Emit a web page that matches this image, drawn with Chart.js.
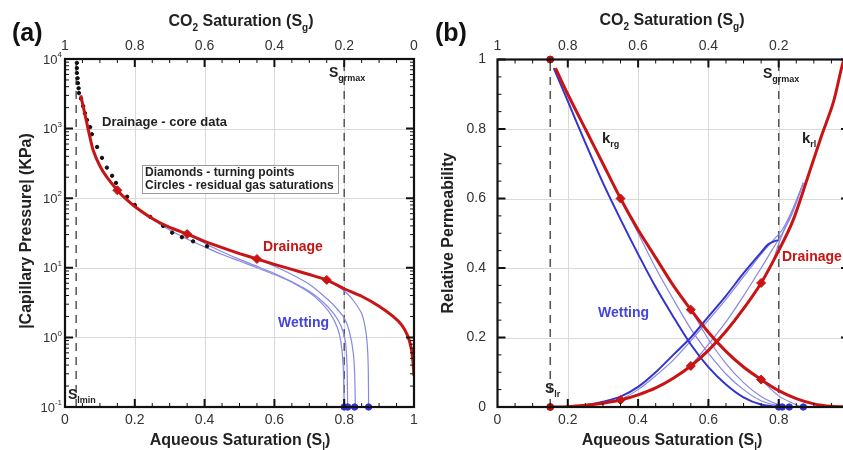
<!DOCTYPE html>
<html><head><meta charset="utf-8">
<script src="https://cdn.jsdelivr.net/npm/chart.js@4/dist/chart.umd.min.js"></script>
<style>
html,body{margin:0;padding:0;background:#fff;width:843px;height:450px;overflow:hidden;position:relative}
canvas{position:absolute;top:0}
#ca{left:0}
#cb{left:430px}
</style></head><body>
<canvas id="ca" width="430" height="450"></canvas>
<canvas id="cb" width="430" height="450"></canvas>
<script>
// ---------- Panel (a): capillary pressure ----------
const drainSl = [0.045,0.055,0.066,0.08,0.1,0.12,0.15,0.172,0.2,0.25,0.3,0.35,0.4,0.45,0.5,0.55,0.6,0.65,0.7,0.75,0.8,0.85,0.9,0.94,0.965,0.982,0.992,0.997,1.0];
const drainPc = [3000,1800,1000,500,290,200,130,100,76,51,38,30.6,24,19.5,16,13.4,11.2,9.5,8,6.7,5.0,3.9,2.8,2.0,1.5,1.05,0.7,0.45,0.28];
const wet1Sl = [0.15,0.2,0.25,0.3,0.35,0.4,0.45,0.5,0.55,0.6,0.65,0.7,0.73,0.76,0.78,0.79,0.797,0.8];
const wet1Pc = [130,78,50,35,26,20,15.5,12.5,10,8,6.2,4.4,3.3,2.2,1.4,0.9,0.4,0.1];
const wet2Sl = [0.35,0.4,0.45,0.5,0.55,0.6,0.65,0.7,0.74,0.77,0.79,0.803,0.808,0.81];
const wet2Pc = [30.6,22.5,17,13.2,10.5,8.3,6.3,4.6,3.2,2.2,1.5,0.9,0.4,0.1];
const wet3Sl = [0.55,0.6,0.65,0.7,0.74,0.77,0.8,0.815,0.826,0.83,0.832];
const wet3Pc = [13.4,10.5,8,5.8,4,2.9,1.9,1.2,0.6,0.3,0.1];
const wet4Sl = [0.75,0.78,0.81,0.83,0.85,0.86,0.866,0.869,0.87];
const wet4Pc = [6.7,5.5,4.2,3.2,2.2,1.4,0.8,0.35,0.1];
const coreSl = [0.034,0.034,0.034,0.036,0.037,0.039,0.040,0.046,0.052,0.057,0.063,0.072,0.077,0.092,0.106,0.120,0.135,0.146,0.178,0.20,0.244,0.281,0.307,0.335,0.367,0.407];
const corePc = [8800,7400,6300,5300,4500,3800,3240,2700,2100,1670,1330,1050,830,545,380,275,210,166,105,80,54,40,32,27.5,24,20.4];
const turnSl = [0.15,0.35,0.55,0.75];
const turnPc = [130,30.6,13.4,6.7];
const resSl = [0.80,0.81,0.83,0.87];
const slminSl = 0.032;
const sgrmaxSl = 0.8;
const aBottomTicks = [0,0.2,0.4,0.6,0.8,1];
const aBottomLabels = ['0','0.2','0.4','0.6','0.8','1'];
const aTopLabels = ['1','0.8','0.6','0.4','0.2','0'];
const aDecades = [-1,0,1,2,3,4];

// ---------- Panel (b): relative permeability ----------
const krgDrSl = [0.165,0.2,0.25,0.3,0.35,0.4,0.45,0.5,0.55,0.6,0.65,0.7,0.75,0.8,0.85,0.9,0.95,1.0];
const krgDrKr = [0.975,0.90,0.80,0.70,0.60,0.51,0.43,0.35,0.28,0.215,0.16,0.115,0.079,0.047,0.024,0.009,0.002,0];
const krlDrSl = [0.15,0.2,0.25,0.3,0.35,0.4,0.45,0.5,0.55,0.6,0.65,0.7,0.75,0.8,0.84,0.88,0.92,0.955,0.98,1.0];
const krlDrKr = [0,0.001,0.005,0.011,0.02,0.035,0.055,0.083,0.118,0.163,0.218,0.283,0.357,0.45,0.535,0.653,0.775,0.875,0.98,1.05];
const krgW1Sl = [0.16,0.2,0.25,0.3,0.35,0.4,0.45,0.5,0.55,0.6,0.65,0.7,0.75,0.8];
const krgW1Kr = [0.975,0.88,0.76,0.645,0.54,0.44,0.345,0.26,0.18,0.115,0.065,0.028,0.007,0];
const krgW2Sl = [0.35,0.4,0.45,0.5,0.55,0.6,0.65,0.7,0.75,0.81];
const krgW2Kr = [0.6,0.5,0.4,0.31,0.225,0.155,0.095,0.05,0.018,0];
const krgW3Sl = [0.55,0.6,0.65,0.7,0.75,0.8,0.83];
const krgW3Kr = [0.28,0.195,0.125,0.07,0.03,0.006,0];
const krgW4Sl = [0.75,0.8,0.85,0.87];
const krgW4Kr = [0.079,0.032,0.006,0];
const krlW1Sl = [0.2,0.25,0.3,0.35,0.4,0.45,0.5,0.55,0.6,0.65,0.7,0.75,0.77,0.79,0.8];
const krlW1Kr = [0,0.005,0.015,0.03,0.058,0.1,0.15,0.2,0.26,0.32,0.385,0.445,0.468,0.478,0.48];
const krlW2Sl = [0.35,0.4,0.45,0.5,0.55,0.6,0.65,0.7,0.75,0.78,0.81,0.84,0.87];
const krlW2Kr = [0.02,0.05,0.09,0.135,0.19,0.25,0.31,0.375,0.44,0.475,0.51,0.57,0.645];
const krlW3Sl = [0.55,0.6,0.65,0.7,0.75,0.78,0.81,0.84,0.87];
const krlW3Kr = [0.118,0.18,0.245,0.32,0.4,0.45,0.5,0.56,0.645];
const krlW4Sl = [0.75,0.78,0.8,0.82,0.85,0.87];
const krlW4Kr = [0.357,0.41,0.47,0.52,0.59,0.645];
const turnKrgKr = [0.6,0.28,0.079];
const turnKrlKr = [0.02,0.118,0.357];
const turnBSl = [0.35,0.55,0.75];
const slrSl = 0.15;
const bBottomLabels = ['0','0.2','0.4','0.6','0.8','1'];
const bTopLabels = ['1','0.8','0.6','0.4','0.2','0'];
const bYTicks = [0,0.2,0.4,0.6,0.8,1];
const bYLabels = ['0','0.2','0.4','0.6','0.8','1'];

// ---------- helpers ----------
const zip = (xs, ys) => xs.map((x, i) => ({x, y: ys[i]}));
const RED = '#c81414', BLUE = '#3434d0', LBLUE = '#8888e4', FONT = '"Liberation Sans", Arial, sans-serif';
function lineDs(xs, ys, color, w, order, tension) {
  return {data: zip(xs, ys), showLine: true, borderColor: color, borderWidth: w, pointRadius: 0, tension: tension === undefined ? 0.3 : tension, fill: false, order};
}
function markDs(xs, ys, color, style, r, order) {
  return {data: zip(xs, ys), showLine: false, pointStyle: style, pointRadius: r, backgroundColor: color, borderColor: color, borderWidth: 1, clip: false, order};
}
function dashDs(x, y0, y1) {
  return {data: [{x, y: y0}, {x, y: y1}], showLine: true, borderColor: '#555', borderWidth: 1.5, borderDash: [8, 6], pointRadius: 0, order: 50};
}
// rich text: parts = [[text, mode]] mode 0 normal, 1 subscript, 2 superscript
function rich(ctx, parts, x, y, align, size, bold, color) {
  const w = bold ? 'bold ' : '';
  const small = Math.round(size * 0.62);
  let total = 0;
  parts.forEach(([t, m]) => { ctx.font = w + (m ? small : size) + 'px ' + FONT; total += ctx.measureText(t).width; });
  let cx = align === 'center' ? x - total / 2 : align === 'right' ? x - total : x;
  ctx.fillStyle = color || '#222';
  ctx.textBaseline = 'middle';
  ctx.textAlign = 'left';
  parts.forEach(([t, m]) => {
    ctx.font = w + (m ? small : size) + 'px ' + FONT;
    const dy = m === 1 ? size * 0.38 : m === 2 ? -size * 0.38 : 0;
    ctx.fillText(t, cx, y + dy);
    cx += ctx.measureText(t).width;
  });
}
function frameTicks(ctx, ca, xs, ysMaj, ysMin, xPix, yPix) {
  ctx.save();
  ctx.strokeStyle = '#111';
  ctx.lineWidth = 2;
  xs.major.forEach(v => { const p = xPix(v); ctx.beginPath(); ctx.moveTo(p, ca.bottom); ctx.lineTo(p, ca.bottom - 8); ctx.moveTo(p, ca.top); ctx.lineTo(p, ca.top + 8); ctx.stroke(); });
  ysMaj.forEach(v => { const p = yPix(v); ctx.beginPath(); ctx.moveTo(ca.left, p); ctx.lineTo(ca.left + 8, p); ctx.moveTo(ca.right, p); ctx.lineTo(ca.right - 8, p); ctx.stroke(); });
  ctx.lineWidth = 1;
  xs.minor.forEach(v => { const p = xPix(v); ctx.beginPath(); ctx.moveTo(p, ca.bottom); ctx.lineTo(p, ca.bottom - 4); ctx.moveTo(p, ca.top); ctx.lineTo(p, ca.top + 4); ctx.stroke(); });
  ysMin.forEach(v => { const p = yPix(v); ctx.beginPath(); ctx.moveTo(ca.left, p); ctx.lineTo(ca.left + 4, p); ctx.moveTo(ca.right, p); ctx.lineTo(ca.right - 4, p); ctx.stroke(); });
  ctx.lineWidth = 2.2;
  ctx.strokeRect(ca.left, ca.top, ca.right - ca.left, ca.bottom - ca.top);
  ctx.restore();
}
function grid(ctx, ca, xv, yv, xPix, yPix) {
  ctx.save();
  ctx.strokeStyle = '#d9d9d9';
  ctx.lineWidth = 1;
  xv.forEach(v => { const p = Math.round(xPix(v)) + 0.5; ctx.beginPath(); ctx.moveTo(p, ca.top); ctx.lineTo(p, ca.bottom); ctx.stroke(); });
  yv.forEach(v => { const p = Math.round(yPix(v)) + 0.5; ctx.beginPath(); ctx.moveTo(ca.left, p); ctx.lineTo(ca.right, p); ctx.stroke(); });
  ctx.restore();
}
const minorX = [];
for (let i = 1; i < 20; i++) { if (i % 4) minorX.push(i * 0.05); }
const majorXInner = [0.2, 0.4, 0.6, 0.8];

// ---------- chart (a) ----------
const plugA = {
  id: 'plugA',
  beforeDatasetsDraw(chart) {
    const {ctx, chartArea: ca, scales: {x, y}} = chart;
    grid(ctx, ca, majorXInner, [1, 10, 100, 1000], v => x.getPixelForValue(v), v => y.getPixelForValue(v));
  },
  afterDatasetsDraw(chart) {
    const {ctx, chartArea: ca, scales: {x, y}} = chart;
    const minLog = [];
    for (let k = -1; k < 4; k++) for (let m = 2; m < 10; m++) minLog.push(m * Math.pow(10, k));
    frameTicks(ctx, ca, {major: majorXInner, minor: minorX}, aDecades.map(e => Math.pow(10, e)), minLog, v => x.getPixelForValue(v), v => y.getPixelForValue(v));
    aBottomTicks.forEach((v, i) => {
      rich(ctx, [[aBottomLabels[i], 0]], x.getPixelForValue(v), 420, 'center', 14, false, '#333');
      rich(ctx, [[aTopLabels[i], 0]], x.getPixelForValue(v), 46, 'center', 14, false, '#333');
    });
    aDecades.forEach(e => {
      rich(ctx, [['10', 0], [String(e), 2]], 62, y.getPixelForValue(Math.pow(10, e)) + 1, 'right', 13, false, '#333');
    });
    rich(ctx, [['CO', 0], ['2', 1], [' Saturation (S', 0], ['g', 1], [')', 0]], 241, 22, 'center', 16, true, '#222');
    rich(ctx, [['Aqueous Saturation (S', 0], ['l', 1], [')', 0]], 240, 441, 'center', 16, true, '#222');
    ctx.save();
    ctx.translate(27, 231); ctx.rotate(-Math.PI / 2);
    rich(ctx, [['|Capillary Pressure| (KPa)', 0]], 0, 0, 'center', 16, true, '#222');
    ctx.restore();
    rich(ctx, [['(a)', 0]], 12, 34, 'left', 25, true, '#111');
    rich(ctx, [['Drainage - core data', 0]], 102, 122, 'left', 13, true, '#222');
    ctx.save();
    ctx.fillStyle = '#fff'; ctx.fillRect(142, 165, 196, 28);
    ctx.strokeStyle = '#999'; ctx.lineWidth = 1; ctx.strokeRect(142.5, 165.5, 196, 28);
    ctx.restore();
    rich(ctx, [['Diamonds - turning points', 0]], 145, 173, 'left', 12, true, '#222');
    rich(ctx, [['Circles - residual gas saturations', 0]], 145, 186, 'left', 12, true, '#222');
    rich(ctx, [['Drainage', 0]], 263, 247, 'left', 14, true, RED);
    rich(ctx, [['Wetting', 0]], 278, 323, 'left', 14, true, '#4444e0');
    rich(ctx, [['S', 0], ['grmax', 1]], 329, 73, 'left', 14, true, '#222');
    rich(ctx, [['S', 0], ['lmin', 1]], 68, 395, 'left', 14, true, '#222');
  }
};
new Chart(document.getElementById('ca'), {
  type: 'scatter',
  data: {datasets: [
    dashDs(slminSl, 0.1, 10000),
    dashDs(sgrmaxSl, 0.1, 10000),
    lineDs(wet1Sl, wet1Pc, LBLUE, 1.2, 20, 0.2),
    lineDs(wet2Sl, wet2Pc, LBLUE, 1.2, 20, 0.2),
    lineDs(wet3Sl, wet3Pc, LBLUE, 1.2, 20, 0.2),
    lineDs(wet4Sl, wet4Pc, LBLUE, 1.2, 20, 0.2),
    markDs(coreSl, corePc, '#111', 'circle', 1.7, 15),
    lineDs(drainSl, drainPc, RED, 3, 10, 0.15),
    markDs(turnSl, turnPc, RED, 'rectRot', 4.5, 5),
    markDs(resSl, resSl.map(() => 0.1), BLUE, 'circle', 3.2, 5)
  ]},
  options: {
    responsive: false, animation: false, devicePixelRatio: 1,
    layout: {padding: {left: 65, right: 16, top: 59, bottom: 43}},
    plugins: {legend: {display: false}, tooltip: {enabled: false}},
    scales: {
      x: {type: 'linear', min: 0, max: 1, display: false},
      y: {type: 'logarithmic', min: 0.1, max: 10000, display: false}
    }
  },
  plugins: [plugA]
});

// ---------- chart (b) ----------
const plugB = {
  id: 'plugB',
  beforeDatasetsDraw(chart) {
    const {ctx, chartArea: ca, scales: {x, y}} = chart;
    grid(ctx, ca, majorXInner, [0.2, 0.4, 0.6, 0.8], v => x.getPixelForValue(v), v => y.getPixelForValue(v));
  },
  afterDatasetsDraw(chart) {
    const {ctx, chartArea: ca, scales: {x, y}} = chart;
    const minY = [];
    for (let i = 1; i < 20; i++) { if (i % 4) minY.push(i * 0.05); }
    frameTicks(ctx, ca, {major: majorXInner, minor: minorX}, bYTicks, minY, v => x.getPixelForValue(v), v => y.getPixelForValue(v));
    aBottomTicks.forEach((v, i) => {
      rich(ctx, [[bBottomLabels[i], 0]], x.getPixelForValue(v), 420, 'center', 14, false, '#333');
      rich(ctx, [[bTopLabels[i], 0]], x.getPixelForValue(v), 46, 'center', 14, false, '#333');
    });
    bYTicks.forEach((v, i) => {
      rich(ctx, [[bYLabels[i], 0]], 56, y.getPixelForValue(v), 'right', 14, false, '#333');
    });
    rich(ctx, [['CO', 0], ['2', 1], [' Saturation (S', 0], ['g', 1], [')', 0]], 242, 21, 'center', 16, true, '#222');
    rich(ctx, [['Aqueous Saturation (S', 0], ['l', 1], [')', 0]], 242, 441, 'center', 16, true, '#222');
    ctx.save();
    ctx.translate(19, 233); ctx.rotate(-Math.PI / 2);
    rich(ctx, [['Relative Permeability', 0]], 0, 0, 'center', 16, true, '#222');
    ctx.restore();
    rich(ctx, [['(b)', 0]], 5, 34, 'left', 25, true, '#111');
    rich(ctx, [['k', 0], ['rg', 1]], 172, 139, 'left', 15, true, '#222');
    rich(ctx, [['k', 0], ['rl', 1]], 372, 139, 'left', 15, true, '#222');
    rich(ctx, [['Drainage', 0]], 352, 257, 'left', 14, true, RED);
    rich(ctx, [['Wetting', 0]], 168, 313, 'left', 14, true, '#4444e0');
    rich(ctx, [['S', 0], ['grmax', 1]], 333, 74, 'left', 14, true, '#222');
    rich(ctx, [['S', 0], ['lr', 1]], 115, 389, 'left', 14, true, '#222');
  }
};
new Chart(document.getElementById('cb'), {
  type: 'scatter',
  data: {datasets: [
    dashDs(slrSl, 0, 1),
    dashDs(sgrmaxSl, 0, 1),
    lineDs(krgW2Sl, krgW2Kr, LBLUE, 1.2, 20),
    lineDs(krgW3Sl, krgW3Kr, LBLUE, 1.2, 20),
    lineDs(krgW4Sl, krgW4Kr, LBLUE, 1.2, 20),
    lineDs(krlW2Sl, krlW2Kr, LBLUE, 1.2, 20),
    lineDs(krlW3Sl, krlW3Kr, LBLUE, 1.2, 20),
    lineDs(krlW4Sl, krlW4Kr, LBLUE, 1.2, 20),
    lineDs(krgW1Sl, krgW1Kr, BLUE, 2, 15),
    lineDs(krlW1Sl, krlW1Kr, BLUE, 2, 15),
    lineDs(krgDrSl, krgDrKr, RED, 3, 10),
    lineDs(krlDrSl, krlDrKr, RED, 3, 10),
    markDs(turnBSl, turnKrgKr, RED, 'rectRot', 4.5, 5),
    markDs(turnBSl, turnKrlKr, RED, 'rectRot', 4.5, 5),
    markDs([slrSl, slrSl], [0, 1], '#b01010', 'circle', 3.5, 5),
    markDs(resSl, resSl.map(() => 0), BLUE, 'circle', 3.2, 5)
  ]},
  options: {
    responsive: false, animation: false, devicePixelRatio: 1,
    layout: {padding: {left: 67.5, right: 11, top: 59.5, bottom: 43}},
    plugins: {legend: {display: false}, tooltip: {enabled: false}},
    scales: {
      x: {type: 'linear', min: 0, max: 1, display: false},
      y: {type: 'linear', min: 0, max: 1, display: false}
    }
  },
  plugins: [plugB]
});
</script>
</body></html>
